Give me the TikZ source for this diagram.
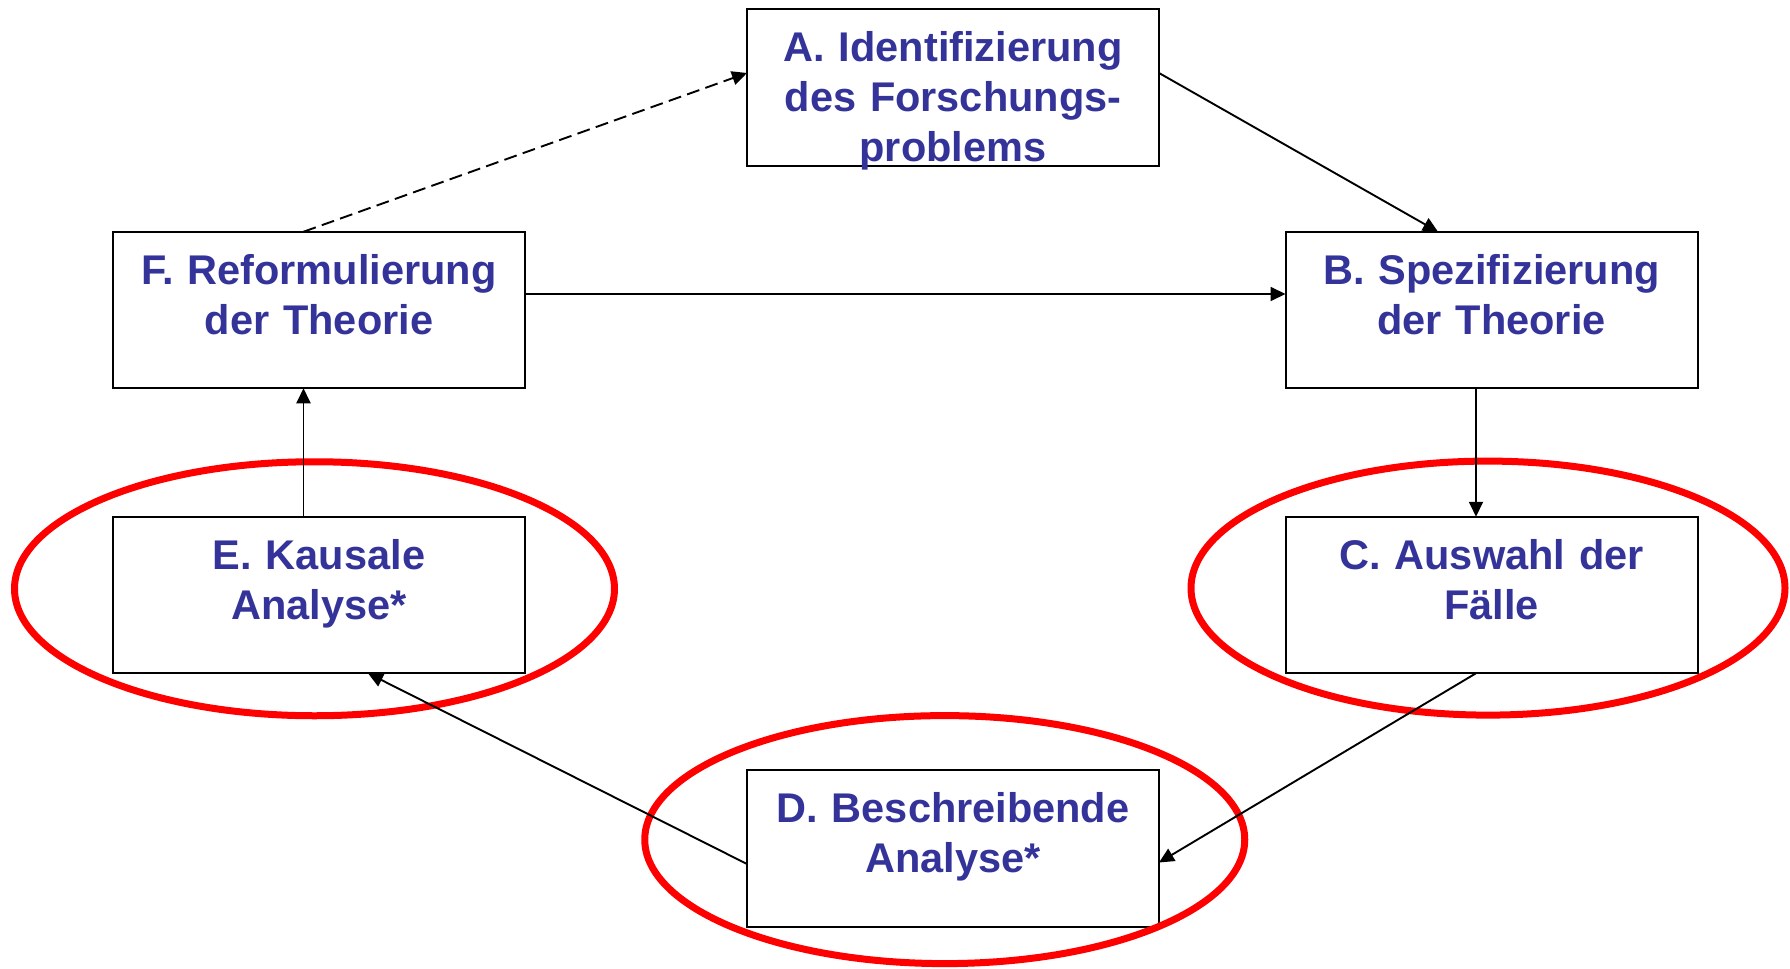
\documentclass[tikz,border=0pt]{standalone}
\usepackage{fontspec}
\setmainfont{Liberation Sans}
\usetikzlibrary{arrows.meta,calc}
\definecolor{txtblue}{HTML}{333399}
\definecolor{ringred}{HTML}{FF0000}
\begin{document}
\begin{tikzpicture}[x=0.5pt,y=-0.5pt,
  stepbox/.style={draw=black,line width=1pt,minimum width=206pt,minimum height=78.25pt,inner sep=0pt,outer sep=0pt},
  boxtext/.style={anchor=base,text width=206pt,align=center,inner sep=0pt,text=txtblue,font=\fontsize{20.75pt}{25pt}\selectfont\bfseries},
  conn/.style={draw=black,line width=0.95pt,-{Triangle[length=7.5pt,width=7pt]}},
  ring/.style={draw=ringred,line width=3.5pt}]
\useasboundingbox (0,0) rectangle (1790,969);
% boxes
\node[stepbox] (a) at (953,87.5) {};
\node[stepbox] (b) at (1491.5,310) {};
\node[stepbox] (c) at (1491.5,595) {};
\node[stepbox] (d) at (953,848.5) {};
\node[stepbox] (e) at (319,595) {};
\node[stepbox] (f) at (319,310) {};
% texts
\node[boxtext] (ta) at ($(a.north)+(0,52.5)$) {A. Identifizierung\\des Forschungs-\\problems};
\node[boxtext] (tb) at ($(b.north)+(0,52.5)$) {B. Spezifizierung\\der Theorie};
\node[boxtext] (tc) at ($(c.north)+(0,52.5)$) {C. Auswahl der\\Fälle};
\node[boxtext] (td) at ($(d.north)+(0,52.5)$) {D. Beschreibende\\Analyse*};
\node[boxtext] (te) at ($(e.north)+(0,52.5)$) {E. Kausale\\Analyse*};
\node[boxtext] (tf) at ($(f.north)+(0,52.5)$) {F. Reformulierung\\der Theorie};
% red rings
\draw[ring] (314.5,588.75) ellipse [x radius=300, y radius=127];
\draw[ring] (1488,588.1) ellipse [x radius=297, y radius=127];
\draw[ring] (944.75,839.6) ellipse [x radius=300, y radius=124];
% connectors
\draw[conn,dash pattern=on 6.5pt off 3.2pt] ($(f.north)+(-15.5,0)$) -- ($(a.west)+(0,-14.5)$);
\draw[conn] ($(a.east)+(0,-14.5)$) -- ($(b.north)+(-53.5,0)$);
\draw[conn] ($(f.east)+(0,-16)$) -- ($(b.west)+(0,-16)$);
\draw[conn] ($(b.south)+(-15.5,0)$) -- ($(c.north)+(-15.5,0)$);
\draw[conn] ($(c.south)+(-15.5,0)$) -- ($(d.east)+(0,14)$);
\draw[conn] ($(d.west)+(0,15.5)$) -- ($(e.south)+(49,0)$);
\draw[conn] ($(e.north)+(-15.5,0)$) -- ($(f.south)+(-15.5,0)$);
\end{tikzpicture}
\end{document}
